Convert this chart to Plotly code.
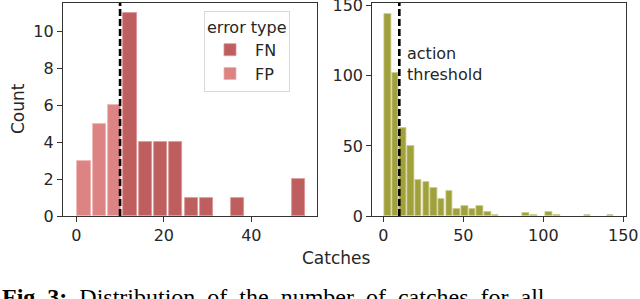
import plotly.graph_objects as go

# ---- data ----
left_bin_width = 3.5
left_fp_centers = [1.75, 5.25, 8.75]
left_fp_counts = [3, 5, 6]
left_fn_centers = [12.25, 15.75, 19.25, 22.75, 26.25, 29.75, 33.25, 36.75, 40.25, 43.75, 47.25, 50.75]
left_fn_counts = [11, 4, 4, 4, 1, 1, 0, 1, 0, 0, 0, 2]

right_bin_width = 4.8
right_first_center = 2.75
right_counts = [144, 102, 63, 50, 26, 24, 20, 12, 18, 5, 7, 5, 7, 3, 1,
                0, 0, 0, 2, 1, 0, 3, 1, 0, 0, 0, 1, 0, 0, 1]
right_centers = [right_first_center + i * right_bin_width for i in range(len(right_counts))]

threshold = 10
left_yticks = [0, 2, 4, 6, 8, 10]
left_xticks = [0, 20, 40]
right_yticks = [0, 50, 100, 150]
right_xticks = [0, 50, 100, 150]

FN_COLOR = "#be5e5e"
FP_COLOR = "#dc8383"
OLIVE = "#a0a03c"
TXT = "#262626"
FONT = "DejaVu Sans"

W, H = 640, 299
def px_x(p): return p / W
def px_y(p): return 1 - p / H

def nonzero(xs, ys):
    pairs = [(x, y) for x, y in zip(xs, ys) if y > 0]
    return [p[0] for p in pairs], [p[1] for p in pairs]

fn_x, fn_y = nonzero(left_fn_centers, left_fn_counts)
fp_x, fp_y = nonzero(left_fp_centers, left_fp_counts)
r_x, r_y = nonzero(right_centers, right_counts)

fig = go.Figure()
fig.add_trace(go.Bar(x=fn_x, y=fn_y, width=left_bin_width * 0.86,
                     name="FN", marker=dict(color=FN_COLOR, line=dict(color="#d99494", width=0.8)),
                     xaxis="x", yaxis="y"))
fig.add_trace(go.Bar(x=fp_x, y=fp_y, width=left_bin_width * 0.86,
                     name="FP", marker=dict(color=FP_COLOR, line=dict(color="#efb3b3", width=0.8)),
                     xaxis="x", yaxis="y"))
fig.add_trace(go.Bar(x=r_x, y=r_y, width=right_bin_width * 0.86,
                     name="all", showlegend=False,
                     marker=dict(color=OLIVE, line=dict(color="#cccc8a", width=0.8)),
                     xaxis="x2", yaxis="y2"))

axis_common = dict(showline=True, linecolor="#333333", linewidth=1.2, mirror=True,
                   ticks="outside", ticklen=5, tickwidth=1.2, tickcolor="#333333",
                   showgrid=False, zeroline=False, ticklabeloverflow="allow",
                   automargin=False,
                   tickfont=dict(family=FONT, size=16, color=TXT))

ydom = [px_y(216), px_y(3)]
fig.update_layout(
    width=W, height=H,
    margin=dict(l=0, r=0, t=0, b=0, autoexpand=False),
    paper_bgcolor="white", plot_bgcolor="white",
    barmode="overlay", bargap=0,
    font=dict(family=FONT, color=TXT),
    xaxis=dict(domain=[px_x(63), px_x(317)], range=[-3.04, 55.0], tickvals=left_xticks,
               anchor="y", **axis_common),
    yaxis=dict(domain=ydom, range=[0, 11.55], tickvals=left_yticks, anchor="x", **axis_common),
    xaxis2=dict(domain=[px_x(372.3), px_x(626)], range=[-6.9, 151.7], tickvals=right_xticks,
                anchor="y2", **axis_common),
    yaxis2=dict(domain=ydom, range=[0, 152.0], tickvals=right_yticks, anchor="x2", **axis_common),
    legend=dict(x=px_x(204), y=px_y(11), xanchor="left", yanchor="top",
                bgcolor="white", bordercolor="#d9d9d9", borderwidth=1,
                title=dict(text="error type", font=dict(family=FONT, size=16, color=TXT)),
                font=dict(family=FONT, size=16, color=TXT),
                itemwidth=40, tracegroupgap=2),
    showlegend=True,
)

for xr, yr in [("x", "y"), ("x2", "y2")]:
    fig.add_shape(type="line", xref=xr, yref=f"{yr} domain", x0=threshold, x1=threshold,
                  y0=0, y1=1, line=dict(color="black", width=2.6, dash="7px,3px"), layer="above")

fig.add_annotation(text="action<br>threshold", xref="paper", yref="paper",
                   x=px_x(405), y=px_y(42), xanchor="left", yanchor="top", showarrow=False,
                   align="left", font=dict(family=FONT, size=16, color=TXT))
fig.add_annotation(text="Catches", xref="paper", yref="paper", x=px_x(336), y=px_y(258),
                   xanchor="center", yanchor="middle", showarrow=False,
                   font=dict(family=FONT, size=17, color=TXT))
fig.add_annotation(text="Count", xref="paper", yref="paper", x=px_x(18), y=px_y(109),
                   xanchor="center", yanchor="middle", showarrow=False, textangle=-90,
                   font=dict(family=FONT, size=17, color=TXT))
fig.add_annotation(text="<b>Fig. 3:</b>  Distribution  of  the  number  of  catches  for  all",
                   xref="paper", yref="paper", x=0, y=px_y(282), xanchor="left",
                   yanchor="top", showarrow=False,
                   font=dict(family="Liberation Serif", size=24, color="black"))

fig.write_html("out.html", config={"displayModeBar": False},
               post_script="document.body.style.margin='0';document.body.style.overflow='hidden';")
